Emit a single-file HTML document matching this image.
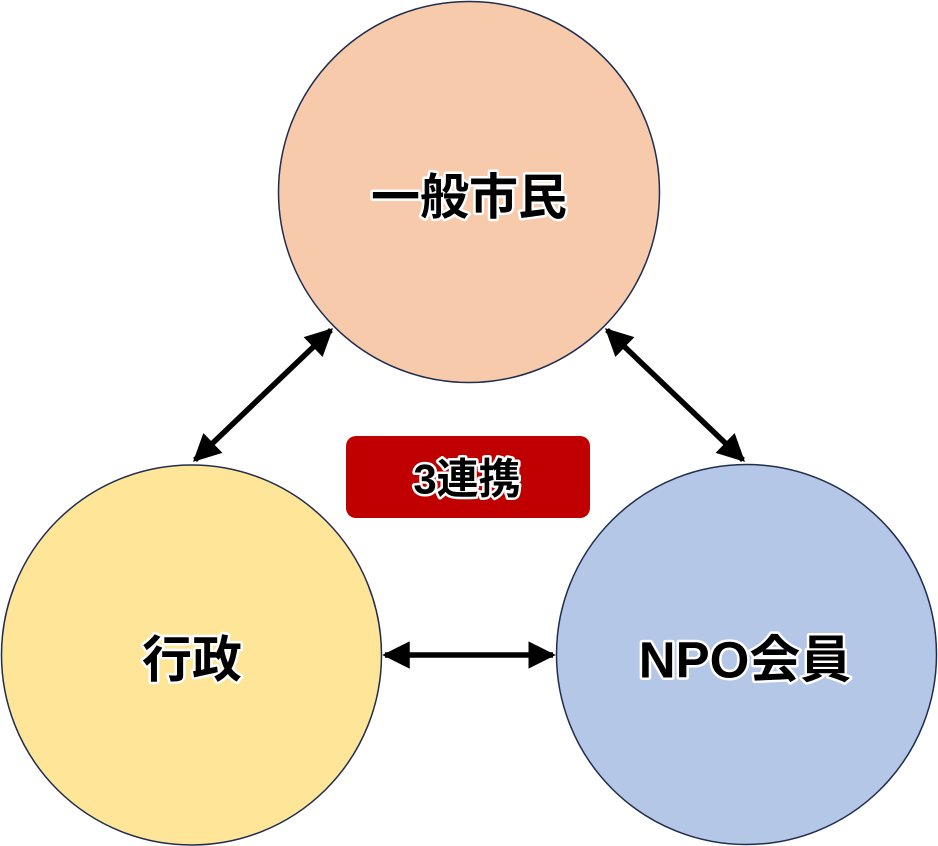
<!DOCTYPE html>
<html><head><meta charset="utf-8"><style>
html,body{margin:0;padding:0;background:#fff;}
svg{display:block}
text{font-family:"Liberation Sans","Noto Sans CJK JP",sans-serif;font-weight:bold;fill:#000;stroke:#fff;stroke-width:5;paint-order:stroke;stroke-linejoin:round;text-anchor:middle;dominant-baseline:central}
</style></head><body>
<svg width="938" height="846" viewBox="0 0 938 846" xmlns="http://www.w3.org/2000/svg">
<defs>
<marker id="a" viewBox="0 0 10 10" refX="9" refY="5" markerWidth="5" markerHeight="5" orient="auto-start-reverse" markerUnits="strokeWidth">
<path d="M0,0 L10,5 L0,10 z" fill="#000"/>
</marker>
</defs>
<circle cx="469" cy="192" r="190.5" fill="#f7caac" stroke="#1f2d4e" stroke-width="1.5"/>
<circle cx="191.5" cy="655" r="190" fill="#fee598" stroke="#1f2d4e" stroke-width="1.5"/>
<circle cx="746.5" cy="654.5" r="190" fill="#b4c7e7" stroke="#1f2d4e" stroke-width="1.5"/>
<line x1="331" y1="330" x2="195" y2="460" stroke="#000" stroke-width="5.5" marker-start="url(#a)" marker-end="url(#a)"/>
<line x1="607" y1="330" x2="743" y2="460" stroke="#000" stroke-width="5.5" marker-start="url(#a)" marker-end="url(#a)"/>
<line x1="385" y1="655" x2="553" y2="655" stroke="#000" stroke-width="5.5" marker-start="url(#a)" marker-end="url(#a)"/>
<rect x="346" y="436" width="244" height="82" rx="10" fill="#c00000"/>
<text x="467" y="479" font-size="42">3連携</text>
<text x="469" y="198" font-size="49">一般市民</text>
<text x="192" y="660" font-size="50">行政</text>
<text x="745" y="660" font-size="51">NPO会員</text>
</svg>
</body></html>
